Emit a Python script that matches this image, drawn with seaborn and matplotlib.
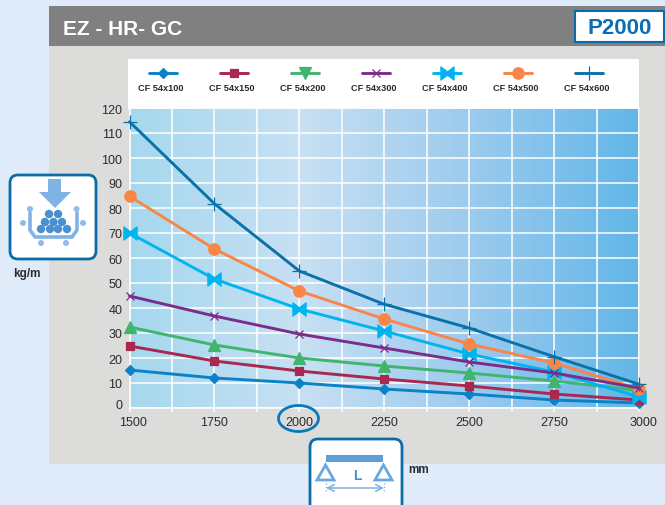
import numpy as np
import pandas as pd
import matplotlib
matplotlib.use("Agg")
import matplotlib.pyplot as plt
import seaborn as sns
from matplotlib.colors import LinearSegmentedColormap
from matplotlib.lines import Line2D
from matplotlib.patches import Circle, FancyBboxPatch, Polygon, Rectangle, Ellipse
from matplotlib.path import Path
from matplotlib.transforms import ScaledTranslation

# data
spans = [1500, 1750, 2000, 2250, 2500, 2750, 3000]
cf100 = [15.2, 12.0, 10.0, 7.6, 5.6, 3.2, 2.0]
cf150 = [24.8, 18.8, 14.8, 11.6, 8.8, 5.6, 3.2]
cf200 = [32.4, 25.2, 20.0, 16.8, 14.0, 10.8, 7.0]
cf300 = [44.8, 36.8, 29.6, 24.0, 18.4, 14.0, 8.0]
cf400 = [70.0, 51.6, 39.6, 30.8, 21.6, 14.4, 4.4]
cf500 = [84.7, 63.6, 46.8, 35.6, 25.6, 18.0, 7.6]
cf600 = [114.5, 81.7, 54.8, 41.5, 32.0, 20.5, 9.5]
names = ["CF 54x100", "CF 54x150", "CF 54x200", "CF 54x300", "CF 54x400", "CF 54x500", "CF 54x600"]
values = [cf100, cf150, cf200, cf300, cf400, cf500, cf600]
y_ticks = list(range(0, 121, 10))

colors = ["#0A82C8", "#A8284F", "#3FB56E", "#7B2D8B", "#00B4F0", "#F98546", "#0A72AA"]
bowtie = Path([(-1, 1), (0, 0.25), (1, 1), (1, -1), (0, -0.25), (-1, -1), (-1, 1)], closed=True)
markers = ["D", "s", "^", "x", bowtie, "o", "+"]
sizes = [5.4, 6, 8, 5.5, 9.5, 8.2, 9.5]
legend_markers = ["D", "s", "v", "x", bowtie, "o", "+"]
draw_order = [0, 1, 2, 4, 5, 3, 6]

DARK = "#2B2B2B"
BLUE = "#0A6CA8"
ICON_DARK = "#4A90D0"
ICON_LIGHT = "#7FB3E3"

sns.set_theme(style="white")
plt.rcParams["font.family"] = ["Liberation Sans"]

df = pd.DataFrame({
    "span": spans * len(names),
    "load": np.concatenate(values),
    "series": np.repeat(names, len(spans)),
})

fig = plt.figure(figsize=(6.65, 5.06), dpi=100, facecolor="#DFEBF8")

# background layer in pixel coordinates
bg = fig.add_axes([0, 0, 1, 1], zorder=0)
bg.set_xlim(0, 665)
bg.set_ylim(506, 0)
bg.axis("off")
bg.add_patch(Rectangle((49, 7), 616, 458, color="#DCDCDB", lw=0))
bg.add_patch(Rectangle((49, 7), 616, 40, color="#808080", lw=0))
bg.add_patch(Rectangle((128, 60), 511, 50, color="white", lw=0))
bg.add_patch(Rectangle((575, 12), 89, 31, fc="white", ec=BLUE, lw=1.5))
bg.text(63, 29, "EZ - HR- GC", color="white", fontsize=15, fontweight="bold", ha="left", va="center")
bg.text(619.5, 28, "P2000", color="#0A6EB4", fontsize=16, fontweight="bold", ha="center", va="center")

# main plot
ax = fig.add_axes([129.5 / 665, 1 - 409 / 506, 509.5 / 665, 300 / 506], zorder=1)
gradient = LinearSegmentedColormap.from_list("bg", ["#A5D8EE", "#C8E0F3", "#9CCBEE", "#62B6E8"])
stops = np.linspace(0, 1, 256).reshape(1, -1)
ax.imshow(stops, cmap=gradient, extent=(1500, 3000, 0, 120), aspect="auto", zorder=0)

order = [names[i] for i in draw_order]
sns.lineplot(
    data=df, x="span", y="load", hue="series", hue_order=order,
    palette=dict(zip(names, colors)), errorbar=None, legend=False,
    linewidth=2.1, clip_on=False, ax=ax, zorder=3,
)
for line, i in zip(ax.lines, draw_order):
    line.set_marker(markers[i])
    line.set_markerfacecolor(colors[i])
    line.set_markeredgecolor(colors[i])
    line.set_markersize(sizes[i])
    line.set_markeredgewidth(0.9)

ax.set_xlim(1500, 3000)
ax.set_ylim(0, 120)
ax.set_xticks(spans)
ax.set_xticks([s + 125 for s in spans[:-1]], minor=True)
ax.set_yticks(y_ticks)
ax.grid(True, which="both", color="white", linewidth=1.1, zorder=1)
ax.set_axisbelow(True)
ax.set_xlabel("")
ax.set_ylabel("")
ax.tick_params(axis="x", which="both", length=3, width=1.1, color="white", pad=2.5,
               labelsize=9, labelcolor=DARK, bottom=True)
ax.tick_params(axis="y", length=0, pad=5, labelsize=9, labelcolor=DARK)
for spine in ax.spines.values():
    spine.set_color("white")
    spine.set_linewidth(1.1)

# the end labels sit a little off their ticks in the original
fig.canvas.draw()
ax.get_yticklabels()[0].set_transform(
    ax.get_yticklabels()[0].get_transform() + ScaledTranslation(0, 3 / 72, fig.dpi_scale_trans))
for lab, dx in [(ax.get_xticklabels()[0], 2.5), (ax.get_xticklabels()[-1], 3)]:
    lab.set_transform(lab.get_transform() + ScaledTranslation(dx / 72, 0, fig.dpi_scale_trans))

# overlay layer: legend, icons and unit labels
top = fig.add_axes([0, 0, 1, 1], zorder=2)
top.set_xlim(0, 665)
top.set_ylim(506, 0)
top.axis("off")
top.patch.set_alpha(0)

legend_x = [163, 234, 305, 376, 447, 518, 589]
for x, name, c, m, s in zip(legend_x, names, colors, legend_markers, sizes):
    top.add_line(Line2D([x - 14, x + 14], [74, 74], color=c, lw=2.1))
    top.add_line(Line2D([x], [74], color=c, marker=m, ms=s, mec=c, mew=0.9))
    top.text(x - 2, 88.5, name, fontsize=6.6, fontweight="bold", color=DARK, ha="center", va="center")

top.add_patch(Ellipse((298.5, 419.5), 40, 26, fc="none", ec="#0A78BE", lw=2))

# load icon
top.add_patch(FancyBboxPatch((14, 180), 78, 76, boxstyle="round,pad=4,rounding_size=8",
                             fc="white", ec=BLUE, lw=2))
top.add_patch(Polygon([(48, 180), (61, 180), (61, 193), (71, 193), (55, 209), (39, 193), (48, 193)],
                      fc=ICON_LIGHT, lw=0))
top.add_line(Line2D([30, 30, 35, 72, 77, 77], [214, 231, 238, 238, 231, 214], color=ICON_LIGHT, lw=2.6))
for cx, cy in [(49, 215), (58, 215), (45, 223), (53.5, 223), (62, 223),
               (41, 230), (50, 230), (58, 230), (67, 230)]:
    top.add_patch(Circle((cx, cy), 4.2, fc=ICON_DARK, lw=0))
for cx, cy in [(30, 210), (76.5, 210), (23, 224), (83, 224), (41, 244), (66, 244)]:
    top.add_patch(Circle((cx, cy), 3, fc="#8FBDE8", lw=0))
top.text(27, 274, "kg/m", fontsize=8.5, fontweight="bold", color=DARK, ha="center", va="center")

# span icon
top.add_patch(FancyBboxPatch((314, 444), 84, 76, boxstyle="round,pad=4,rounding_size=8",
                             fc="white", ec=BLUE, lw=2))
top.add_patch(Rectangle((326, 456), 57, 7, fc="#5B9FDB", lw=0))
for cx in [325.5, 383.5]:
    top.add_patch(Polygon([(cx, 466), (cx - 8.5, 481), (cx + 8.5, 481)], fc="white", ec="#6AA6DF", lw=2))
    top.add_line(Line2D([cx, cx], [484, 494], color=ICON_LIGHT, lw=0.9, ls=":"))
top.text(357, 476, "L", fontsize=10, fontweight="bold", color="#4A90D0", ha="center", va="center")
top.annotate("", xy=(326, 489), xytext=(384, 489),
             arrowprops=dict(arrowstyle="<->", color=ICON_LIGHT, lw=1.1, shrinkA=0, shrinkB=0))
top.text(419, 470, "mm", fontsize=8.5, fontweight="bold", color=DARK, ha="center", va="center")

fig.savefig("out.png", dpi=100, facecolor=fig.get_facecolor())
